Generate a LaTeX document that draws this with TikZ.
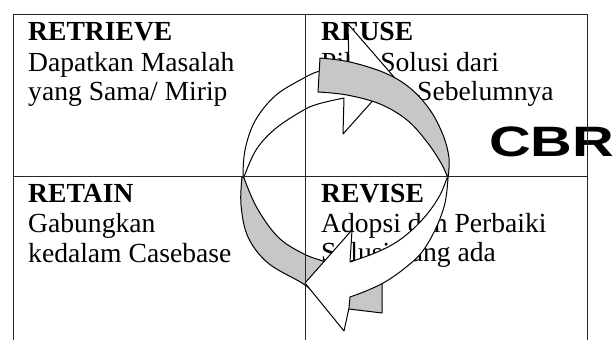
\documentclass[tikz,border=0pt]{standalone}
\usepackage{graphicx}
\usepackage{pdfrender}
\usepackage{fontspec}
\setmainfont{Liberation Serif}
\newfontfamily\cbrfont{Liberation Sans}
\begin{document}
\begin{tikzpicture}[x=1pt,y=-1pt,
  lbl/.style={anchor=base west, inner sep=0pt, font=\fontsize{27.6}{30}\selectfont},
  hd/.style={anchor=base west, inner sep=0pt, font=\fontsize{27.6}{30}\selectfont\bfseries},
  grid/.style={draw=black!85, line width=0.9pt},
  ribbon/.style={draw=black, line width=1pt, line join=round},
  back/.style={ribbon, fill=black!22},
  front/.style={ribbon, fill=white},
  sm/.style={smooth, tension=0.6}]
\useasboundingbox (0,0) rectangle (615,340);
% texts
\node[hd]  (t1)  at (28,40)  {RETRIEVE};
\node[lbl] (t1a) at (28,71)  {Dapatkan Masalah};
\node[lbl] (t1b) at (28,100) {yang Sama/ Mirip};
\node[hd]  (t2)  at (321,40)  {REUSE};
\node[lbl] (t2a) at (321,71)  {Pilih Solusi dari};
\node[lbl] (t2b) at (417,100) {Sebelumnya};
\node[hd]  (t3)  at (28,202) {RETAIN};
\node[lbl] (t3a) at (28,232) {Gabungkan};
\node[lbl] (t3b) at (28,262) {kedalam Casebase};
\node[hd]  (t4)  at (321,202) {REVISE};
\node[lbl] (t4a) at (321,232) {Adopsi dan Perbaiki};
\node[lbl] (t4b) at (321,261) {Solusi yang ada};
\node[anchor=base west, inner sep=0pt] (cbr) at (489,156.5)
  {\scalebox{1.36}[1]{\cbrfont\bfseries\fontsize{42.5}{45}\selectfont
   \textpdfrender{TextRenderingMode=2,LineWidth=2.4,LineJoin=1}{CBR}}};
% arrow 1 back face (lower left, grey) with tail block
\path[back] plot[sm] coordinates {(242,177) (241,205) (248,237) (268,263) (302,283) (320,296) (349,309)}
  -- (382,313) -- (382,275)
  -- plot[sm] coordinates {(382,275) (350,268) (323,261) (302,253) (278,237) (257,208) (244,178)} -- cycle;
% arrow 1 front face (upper left, white) with head
\path[front] plot[sm] coordinates {(243,177) (245,150) (255,121) (275,96) (302,79) (320,71) (349,66)}
  -- (348,24) -- (394,77) -- (343,134) -- (344,98)
  -- plot[sm] coordinates {(344,98) (318,104) (302,111) (275,129) (256,150) (244,177)} -- cycle;
% arrow 2 back face (upper right, grey)
\path[back] plot[sm] coordinates {(320,58) (350,62) (385,73) (410,88) (430,110) (443,135) (449,158) (448,178)}
  -- plot[sm] coordinates {(448,178) (441,163) (427,142) (407,120) (380,104) (347,95) (318,92)} -- cycle;
% arrow 2 front face (lower right, white) with head
\path[front] plot[sm] coordinates {(448,178) (445,203) (436,228) (422,252) (405,268) (385,282) (366,291) (350,297)}
  -- (349,308) -- (344,331) -- (305,283) -- (352,230) -- (350,262)
  -- plot[sm] coordinates {(350,262) (375,253) (395,243) (412,230) (428,213) (440,195) (447,178)} -- cycle;
% table lines
\coordinate (bl) at (13,340);
\coordinate (tl) at (13,14);
\coordinate (tr) at (587,14);
\coordinate (br) at (587,340);
\coordinate (mt) at (305,14);
\coordinate (mb) at (305,340);
\coordinate (ml) at (13,176);
\coordinate (mr) at (587,176);
\draw[grid] (bl) -- (tl) -- (tr) -- (br);
\draw[grid] (mt) -- (mb);
\draw[grid] (ml) -- (mr);
\end{tikzpicture}
\end{document}
